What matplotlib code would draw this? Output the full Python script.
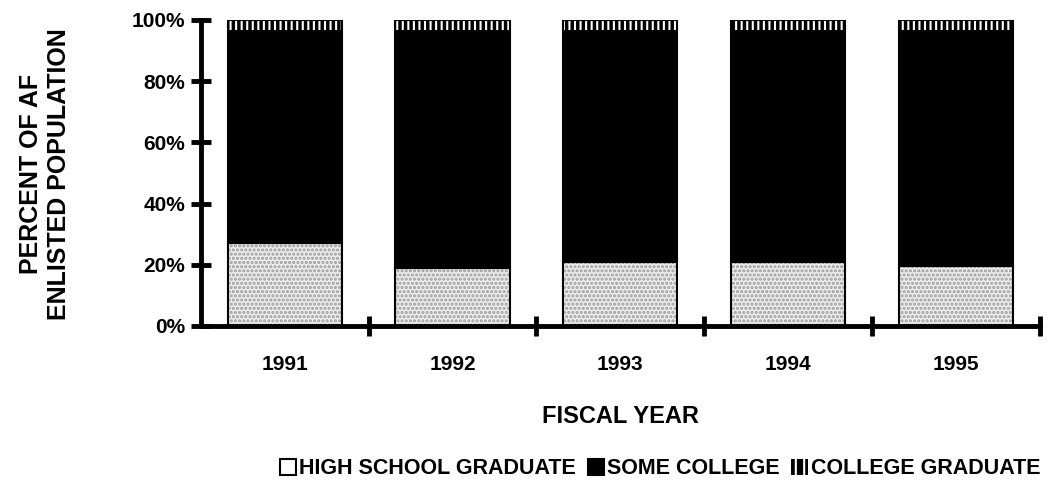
import matplotlib as mpl
import numpy as np
import matplotlib.pyplot as plt
from matplotlib.patches import Patch

mpl.rcParams['font.family'] = ['Liberation Sans', 'DejaVu Sans']
mpl.rcParams['font.weight'] = 'bold'
mpl.rcParams['axes.labelweight'] = 'bold'
mpl.rcParams['hatch.linewidth'] = 1.5

years = ['1991', '1992', '1993', '1994', '1995']
high_school = [27, 19, 21, 21, 19.5]
college_grad = [3.3, 3.3, 3.3, 3.3, 3.3]
some_college = [100 - h - c for h, c in zip(high_school, college_grad)]

fig = plt.figure(figsize=(10.51, 4.87), dpi=100)
ax = fig.add_axes([0.191, 0.3306, 0.7985, 0.6284])

x = np.arange(len(years))
w = 0.68
bottom2 = np.array(high_school)
bottom3 = bottom2 + np.array(some_college)

ax.bar(x, high_school, w, color='#ececec', edgecolor='#9a9a9a', hatch='....', linewidth=0, zorder=2)
ax.bar(x, some_college, w, bottom=bottom2, color='black', linewidth=0, zorder=2)
ax.bar(x, college_grad, w, bottom=bottom3, color='black', edgecolor='white', hatch='|||', linewidth=0, zorder=2)
# outlines
ax.bar(x, high_school, w, fill=False, edgecolor='black', linewidth=1.5, zorder=3)
ax.bar(x, np.array(some_college) + np.array(college_grad), w, bottom=bottom2,
       fill=False, edgecolor='black', linewidth=1.5, zorder=3)

ax.set_xlim(-0.5, 4.5)
ax.set_ylim(0, 100)
ax.set_yticks([0, 20, 40, 60, 80, 100])
ax.set_yticklabels(['0%', '20%', '40%', '60%', '80%', '100%'])
ax.set_xticks(x)
ax.set_xticklabels(years)
ax.set_xticks(list(x[:-1] + 0.5) + [4.5], minor=True)
ax.tick_params(axis='x', which='major', length=0, pad=21, labelsize=15)
ax.tick_params(axis='x', which='minor', length=14, width=3.5, direction='inout')
ax.tick_params(axis='y', length=14, width=3.5, direction='inout', pad=4, labelsize=15)

for s in ['top', 'right']:
    ax.spines[s].set_visible(False)
ax.spines['left'].set_linewidth(3.5)
ax.spines['bottom'].set_linewidth(3.5)
ax.spines['left'].set_zorder(4)
ax.spines['bottom'].set_zorder(4)

ax.set_xlabel('FISCAL YEAR', fontsize=17, labelpad=22)
fig.text(0.043, 0.643, 'PERCENT OF AF\nENLISTED POPULATION', rotation=90,
         ha='center', va='center', fontsize=18, linespacing=1.2)

handles = [
    Patch(facecolor='white', edgecolor='black', linewidth=1.5),
    Patch(facecolor='black', edgecolor='black', linewidth=1.5),
    Patch(facecolor='black', edgecolor='white', hatch='||', linewidth=0),
]
labels = ['HIGH SCHOOL GRADUATE', 'SOME COLLEGE', 'COLLEGE GRADUATE']
fig.legend(handles, labels, loc='center right', bbox_to_anchor=(0.998, 0.037), ncol=3,
           frameon=False, fontsize=15.5, handlelength=0.75, handleheight=0.75,
           handletextpad=0.15, columnspacing=0.55, borderaxespad=0)

plt.savefig('out.png', dpi=100)
